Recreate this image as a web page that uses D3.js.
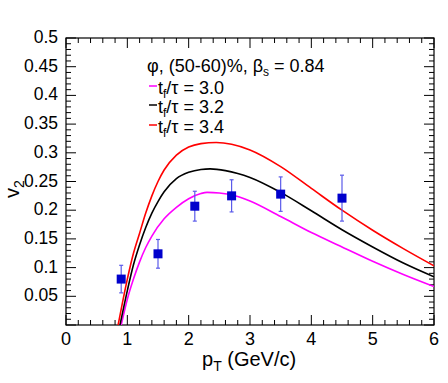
<!DOCTYPE html>
<html>
<head>
<meta charset="utf-8">
<script src="https://d3js.org/d3.v7.min.js"></script>
<style>
body { margin: 0; background: #fff; }
text { font-family: "Liberation Sans", Arial, sans-serif; }
</style>
</head>
<body>
<div id="viz"></div>
<script>
// data
var dataPt = [0.9, 1.5, 2.1, 2.7, 3.5, 4.5];
var dataV2 = [0.080, 0.124, 0.207, 0.225, 0.228, 0.221];
var dataErr = [0.024, 0.025, 0.026, 0.028, 0.030, 0.040];

var ptA = [0.90, 1.0, 1.1, 1.2, 1.3, 1.4, 1.6, 1.8, 2.0, 2.2, 2.3, 2.5, 2.8, 3.0, 3.5, 4.0, 4.5, 5.0, 5.5, 6.0];
var v2A = [0.0, 0.045, 0.080, 0.110, 0.135, 0.155, 0.185, 0.205, 0.220, 0.229, 0.231, 0.230, 0.224, 0.216, 0.189, 0.161, 0.136, 0.111, 0.088, 0.067];

var ptB = [0.88, 1.0, 1.1, 1.2, 1.3, 1.4, 1.5, 1.6, 1.8, 2.0, 2.2, 2.35, 2.6, 2.8, 3.0, 3.5, 4.0, 4.5, 5.0, 5.5, 6.0];
var v2B = [0.0, 0.060, 0.105, 0.140, 0.170, 0.195, 0.215, 0.232, 0.255, 0.266, 0.271, 0.272, 0.269, 0.264, 0.257, 0.231, 0.199, 0.166, 0.136, 0.108, 0.084];

var ptC = [0.85, 1.0, 1.1, 1.2, 1.3, 1.4, 1.5, 1.6, 1.8, 2.0, 2.2, 2.45, 2.7, 3.0, 3.5, 4.0, 4.5, 5.0, 5.5, 6.0];
var v2C = [0.0, 0.080, 0.125, 0.160, 0.195, 0.225, 0.250, 0.270, 0.296, 0.310, 0.316, 0.318, 0.315, 0.305, 0.276, 0.238, 0.200, 0.165, 0.133, 0.103];

var curves = [
  {name: "3.0", color: "#ff00ff", pt: ptA, v2: v2A},
  {name: "3.2", color: "#000000", pt: ptB, v2: v2B},
  {name: "3.4", color: "#ff0000", pt: ptC, v2: v2C}
];

var xTicks = [0, 1, 2, 3, 4, 5, 6];
var yTicks = [0.05, 0.1, 0.15, 0.2, 0.25, 0.3, 0.35, 0.4, 0.45, 0.5];

var W = 448, H = 383;
var L = 66, R = 434, T = 38, B = 325;

var svg = d3.select("#viz").append("svg")
    .attr("width", W)
    .attr("height", H);

var x = d3.scaleLinear().domain([0, 6]).range([L, R]);
var y = d3.scaleLinear().domain([0, 0.5]).range([B, T]);

svg.append("clipPath").attr("id", "clip")
    .append("rect")
    .attr("x", L).attr("y", T)
    .attr("width", R - L).attr("height", B - T);

// frame
svg.append("rect")
    .attr("x", L).attr("y", T)
    .attr("width", R - L).attr("height", B - T)
    .style("fill", "none")
    .style("stroke", "black")
    .style("stroke-width", 1.2);

// ticks on all four sides
var xMinor = d3.range(0, 6.0001, 0.2);
var yMinor = d3.range(0, 0.5001, 0.01);
function isMajorX(v) { return Math.abs(v - Math.round(v)) < 1e-6; }
function isMajorY(v) { return Math.abs(v * 20 - Math.round(v * 20)) < 1e-6; }

var tk = svg.append("g").style("stroke", "black").style("stroke-width", 1);
xMinor.forEach(function(v) {
    var len = isMajorX(v) ? 10 : 5;
    tk.append("line").attr("x1", x(v)).attr("x2", x(v)).attr("y1", B).attr("y2", B - len);
    tk.append("line").attr("x1", x(v)).attr("x2", x(v)).attr("y1", T).attr("y2", T + len);
});
yMinor.forEach(function(v) {
    var len = isMajorY(v) ? 10 : 5;
    tk.append("line").attr("x1", L).attr("x2", L + len).attr("y1", y(v)).attr("y2", y(v));
    tk.append("line").attr("x1", R).attr("x2", R - len).attr("y1", y(v)).attr("y2", y(v));
});

// tick labels
svg.selectAll(".xl")
    .data(xTicks)
    .enter()
    .append("text")
    .attr("x", function(d) { return x(d); })
    .attr("y", 345)
    .attr("text-anchor", "middle")
    .style("font-size", "18px")
    .text(function(d) { return d; });

svg.selectAll(".yl")
    .data(yTicks)
    .enter()
    .append("text")
    .attr("x", 58)
    .attr("y", function(d) { return y(d) + 5; })
    .attr("text-anchor", "end")
    .style("font-size", "17.5px")
    .text(function(d) { return d; });

// axis titles
var xt = svg.append("text")
    .attr("x", 202)
    .attr("y", 366)
    .style("font-size", "20px");
xt.append("tspan").text("p");
xt.append("tspan").attr("dy", 5).style("font-size", "14px").text("T");
xt.append("tspan").attr("dy", -5).text(" (GeV/c)");

var yt = svg.append("text")
    .attr("transform", "translate(19,198) rotate(-90)")
    .style("font-size", "20px");
yt.append("tspan").text("v");
yt.append("tspan").attr("dy", 5).style("font-size", "14px").text("2");

// curves
var line = d3.line()
    .x(function(d) { return x(d[0]); })
    .y(function(d) { return y(d[1]); })
    .curve(d3.curveMonotoneX);

var cg = svg.append("g").attr("clip-path", "url(#clip)");
curves.forEach(function(c) {
    cg.append("path")
        .datum(d3.zip(c.pt, c.v2))
        .attr("d", line)
        .style("fill", "none")
        .style("stroke", c.color)
        .style("stroke-width", 1.6);
});

// data points
var pts = d3.zip(dataPt, dataV2, dataErr);
svg.selectAll(".eb")
    .data(pts)
    .enter()
    .append("line")
    .attr("x1", function(d) { return x(d[0]); })
    .attr("x2", function(d) { return x(d[0]); })
    .attr("y1", function(d) { return y(d[1] - d[2]); })
    .attr("y2", function(d) { return y(d[1] + d[2]); })
    .style("stroke", "#5b5bea")
    .style("stroke-width", 1.2);
svg.selectAll(".cap")
    .data(pts.concat(pts.map(function(d) { return [d[0], d[1], -d[2]]; })))
    .enter()
    .append("line")
    .attr("x1", function(d) { return x(d[0]) - 2; })
    .attr("x2", function(d) { return x(d[0]) + 2; })
    .attr("y1", function(d) { return y(d[1] + d[2]); })
    .attr("y2", function(d) { return y(d[1] + d[2]); })
    .style("stroke", "#5b5bea")
    .style("stroke-width", 1.2);
svg.selectAll(".mk")
    .data(pts)
    .enter()
    .append("rect")
    .attr("x", function(d) { return x(d[0]) - 4.5; })
    .attr("y", function(d) { return y(d[1]) - 4.5; })
    .attr("width", 9)
    .attr("height", 9)
    .style("fill", "#0000cc");

// legend
var lg = svg.append("g");
var t0 = lg.append("text").attr("x", 147).attr("y", 72).style("font-size", "18px");
t0.append("tspan").text("\u03c6, (50-60)%, \u03b2");
t0.append("tspan").attr("dy", 4).style("font-size", "12px").text("s");
t0.append("tspan").attr("dy", -4).text(" = 0.84");

var rowY = [94, 113, 133];
curves.forEach(function(c, i) {
    var yy = rowY[i];
    lg.append("line")
        .attr("x1", 149).attr("x2", 157)
        .attr("y1", yy - 8).attr("y2", yy - 8)
        .style("stroke", c.color)
        .style("stroke-width", 1.5);
    var t = lg.append("text").attr("x", 158).attr("y", yy).style("font-size", "18px");
    t.append("tspan").text("t");
    t.append("tspan").attr("dy", 4).style("font-size", "12px").text("f");
    t.append("tspan").attr("dy", -4).text("/\u03c4 = " + c.name);
});
</script>
</body>
</html>
